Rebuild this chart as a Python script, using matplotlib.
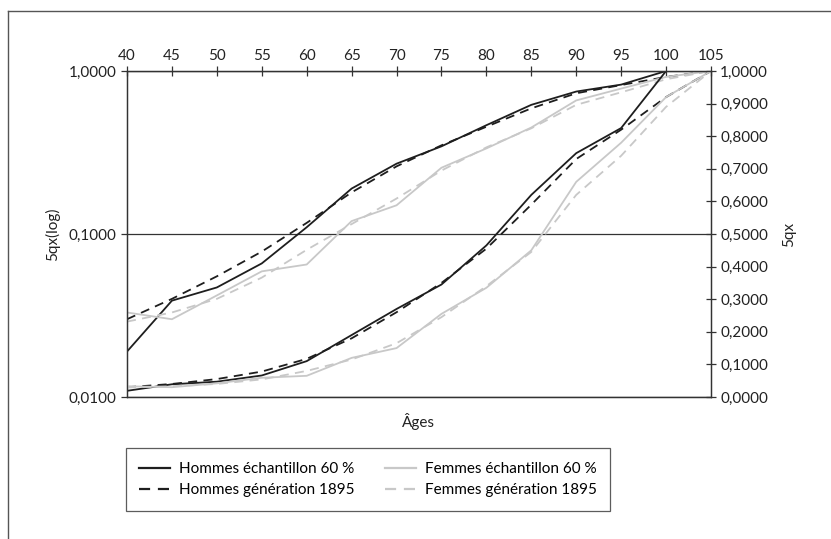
import matplotlib
matplotlib.use("Agg")
import matplotlib.pyplot as plt
from matplotlib.ticker import FuncFormatter, FixedLocator, NullLocator
from matplotlib.lines import Line2D

plt.rcParams['font.family'] = ['Lato', 'DejaVu Sans']

# donnees (quotients 5qx par age)
ages = [40, 45, 50, 55, 60, 65, 70, 75, 80, 85, 90, 95, 100, 105]
hommes_ech = [0.019, 0.039, 0.047, 0.066, 0.110, 0.190, 0.270, 0.345, 0.465, 0.620, 0.748, 0.825, 1.0, 1.0]
hommes_gen = [0.030, 0.040, 0.055, 0.078, 0.117, 0.180, 0.260, 0.350, 0.455, 0.590, 0.730, 0.820, 0.920, 1.0]
femmes_ech = [0.033, 0.030, 0.042, 0.059, 0.065, 0.120, 0.150, 0.255, 0.335, 0.450, 0.660, 0.780, 0.920, 1.0]
femmes_gen = [0.029, 0.033, 0.040, 0.054, 0.080, 0.115, 0.165, 0.245, 0.340, 0.445, 0.620, 0.740, 0.890, 1.0]

left_ticks = [0.01, 0.1, 1.0]
right_ticks = [i / 10 for i in range(11)]
x_ticks = list(range(40, 106, 5))

labels = ["Hommes échantillon 60 %", "Hommes génération 1895",
          "Femmes échantillon 60 %", "Femmes génération 1895"]

black = '#1e1e1e'
grey = '#c8c8c8'
dash = (0, (5, 3.5))
styles = [(black, '-'), (black, dash), (grey, '-'), (grey, dash)]
series = [hommes_ech, hommes_gen, femmes_ech, femmes_gen]

fmt = FuncFormatter(lambda v, p: f"{v:.4f}".replace('.', ','))
fs = 11

fig = plt.figure(figsize=(8.31, 5.39), dpi=100)
ax = fig.add_axes([127 / 831, 1 - 397 / 539, 584 / 831, 326 / 539])
ax2 = ax.twinx()

# courbes en echelle log (axe gauche) et lineaire (axe droit)
for s, (c, ls) in zip(series, styles):
    ax.plot(ages, s, color=c, linestyle=ls, lw=1.3)
    ax2.plot(ages, s, color=c, linestyle=ls, lw=1.3)

ax.set_yscale('log')
ax.set_ylim(0.01, 1.0)
ax.yaxis.set_major_locator(FixedLocator(left_ticks))
ax.yaxis.set_minor_locator(NullLocator())
ax.yaxis.set_major_formatter(fmt)
ax.yaxis.grid(True, color='#333333', lw=0.9)

ax2.set_ylim(0, 1.0)
ax2.yaxis.set_major_locator(FixedLocator(right_ticks))
ax2.yaxis.set_major_formatter(fmt)

ax.set_xlim(40, 105)
ax.set_xticks(x_ticks)
ax.tick_params(axis='x', top=True, bottom=False, labeltop=True, labelbottom=False,
               direction='inout', length=7, width=0.9, colors='#333333',
               labelcolor='#222222', labelsize=fs, pad=2)
ax.tick_params(axis='y', direction='out', length=4, width=0.9, colors='#333333',
               labelcolor='#222222', labelsize=fs)
ax2.tick_params(axis='y', direction='inout', length=7, width=0.9, colors='#333333',
                labelcolor='#222222', labelsize=fs, pad=3)

for a in (ax, ax2):
    for sp in a.spines.values():
        sp.set_color('#333333')
        sp.set_linewidth(0.9)

ax.set_ylabel("5qx(log)", fontsize=fs, color='#222222', labelpad=6)
ax2.set_ylabel("5qx", fontsize=fs, color='#222222', labelpad=10)
fig.text(418 / 831, 1 - 422 / 539, "Âges", ha='center', va='center',
         fontsize=fs, color='#222222')

handles = [Line2D([], [], color=c, linestyle=ls, lw=1.6) for c, ls in styles]
leg = fig.legend(handles, labels, ncol=2, loc='center',
                 bbox_to_anchor=(368 / 831, 1 - 479.5 / 539),
                 fontsize=fs, frameon=True, fancybox=False,
                 handlelength=2.0, columnspacing=2.0, borderpad=0.9,
                 labelspacing=0.45, borderaxespad=0, handletextpad=0.6)
leg.get_frame().set_edgecolor('#333333')
leg.get_frame().set_linewidth(0.9)

# cadre exterieur (haut et gauche)
fig.add_artist(Line2D([8 / 831, 1], [1 - 11 / 539, 1 - 11 / 539], color='#555555', lw=1))
fig.add_artist(Line2D([8 / 831, 8 / 831], [0, 1 - 11 / 539], color='#555555', lw=1))

fig.savefig("out.png", dpi=100)
